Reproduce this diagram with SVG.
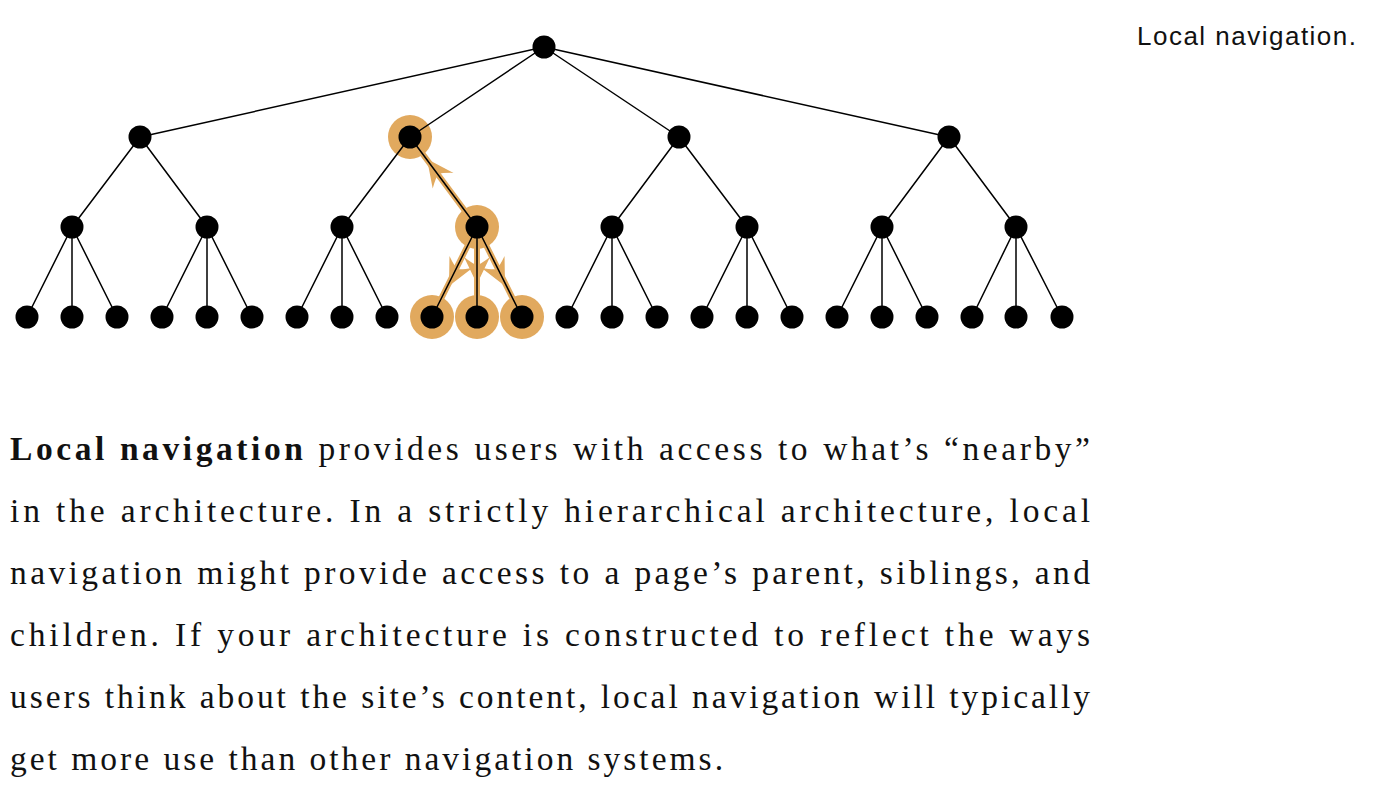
<svg xmlns="http://www.w3.org/2000/svg" width="1395" height="792" viewBox="0 0 1395 792">
<style>
.e{stroke:#000;stroke-width:1.5;fill:none}
.oe{stroke:#E1A95E;stroke-width:6;fill:none}
.n{fill:#000}
.h{fill:#E1A95E}
.ah{fill:#E1A95E}
.body{font-family:"Liberation Serif","DejaVu Serif",serif;font-size:33.5px;fill:#111}
.cap{font-family:"Liberation Sans","DejaVu Sans",sans-serif;font-size:26px;fill:#111}
</style>
<defs>
<path id="arr" d="M0,0 L-27,-13 Q-20,-4 -19,0 Q-20,4 -27,13 Z"/>
</defs>
<rect width="1395" height="792" fill="#fff"/>
<g id="highlights">
<circle class="h" cx="410" cy="137" r="22"/>
<circle class="h" cx="477" cy="227" r="22"/>
<circle class="h" cx="432" cy="317" r="22"/>
<circle class="h" cx="477" cy="317" r="22"/>
<circle class="h" cx="522" cy="317" r="22"/>
<path class="oe" d="M477,227 L410,137 M477,227 L432,317 M477,227 L477,317 M477,227 L522,317"/>
<use href="#arr" class="ah" transform="translate(427,159) rotate(-126.7)"/>
<use href="#arr" class="ah" transform="translate(449,286) rotate(116.6)"/>
<use href="#arr" class="ah" transform="translate(477,284) rotate(90)"/>
<use href="#arr" class="ah" transform="translate(505,286) rotate(63.4)"/>
</g>
<g id="connectors">
<path class="e" d="M544,47 L140,137 M544,47 L410,137 M544,47 L679,137 M544,47 L949,137
M140,137 L72,227 M140,137 L207,227 M410,137 L342,227 M410,137 L477,227 M679,137 L612,227 M679,137 L747,227 M949,137 L882,227 M949,137 L1016,227
M72,227 L27,317 M72,227 L72,317 M72,227 L117,317
M207,227 L162,317 M207,227 L207,317 M207,227 L252,317
M342,227 L297,317 M342,227 L342,317 M342,227 L387,317
M477,227 L432,317 M477,227 L477,317 M477,227 L522,317
M612,227 L567,317 M612,227 L612,317 M612,227 L657,317
M747,227 L702,317 M747,227 L747,317 M747,227 L792,317
M882,227 L837,317 M882,227 L882,317 M882,227 L927,317
M1016,227 L972,317 M1016,227 L1016,317 M1016,227 L1062,317"/>
</g>
<g id="node-root"><circle class="n" cx="544" cy="47" r="11.5"/></g>
<g id="level1">
<circle class="n" cx="140" cy="137" r="11.5"/>
<circle class="n" cx="410" cy="137" r="11.5"/>
<circle class="n" cx="679" cy="137" r="11.5"/>
<circle class="n" cx="949" cy="137" r="11.5"/>
</g>
<g id="level2">
<circle class="n" cx="72" cy="227" r="11.5"/>
<circle class="n" cx="207" cy="227" r="11.5"/>
<circle class="n" cx="342" cy="227" r="11.5"/>
<circle class="n" cx="477" cy="227" r="11.5"/>
<circle class="n" cx="612" cy="227" r="11.5"/>
<circle class="n" cx="747" cy="227" r="11.5"/>
<circle class="n" cx="882" cy="227" r="11.5"/>
<circle class="n" cx="1016" cy="227" r="11.5"/>
</g>
<g id="level3">
<circle class="n" cx="27" cy="317" r="11.5"/>
<circle class="n" cx="72" cy="317" r="11.5"/>
<circle class="n" cx="117" cy="317" r="11.5"/>
<circle class="n" cx="162" cy="317" r="11.5"/>
<circle class="n" cx="207" cy="317" r="11.5"/>
<circle class="n" cx="252" cy="317" r="11.5"/>
<circle class="n" cx="297" cy="317" r="11.5"/>
<circle class="n" cx="342" cy="317" r="11.5"/>
<circle class="n" cx="387" cy="317" r="11.5"/>
<circle class="n" cx="432" cy="317" r="11.5"/>
<circle class="n" cx="477" cy="317" r="11.5"/>
<circle class="n" cx="522" cy="317" r="11.5"/>
<circle class="n" cx="567" cy="317" r="11.5"/>
<circle class="n" cx="612" cy="317" r="11.5"/>
<circle class="n" cx="657" cy="317" r="11.5"/>
<circle class="n" cx="702" cy="317" r="11.5"/>
<circle class="n" cx="747" cy="317" r="11.5"/>
<circle class="n" cx="792" cy="317" r="11.5"/>
<circle class="n" cx="837" cy="317" r="11.5"/>
<circle class="n" cx="882" cy="317" r="11.5"/>
<circle class="n" cx="927" cy="317" r="11.5"/>
<circle class="n" cx="972" cy="317" r="11.5"/>
<circle class="n" cx="1016" cy="317" r="11.5"/>
<circle class="n" cx="1062" cy="317" r="11.5"/>
</g>
<g id="caption">
<text class="cap" x="1137" y="45" textLength="219" lengthAdjust="spacing">Local navigation.</text>
</g>
<g id="body">
<text class="body" x="10" y="460" textLength="1080" lengthAdjust="spacing"><tspan font-weight="bold">Local navigation</tspan> provides users with access to what’s “nearby”</text>
<text class="body" x="10" y="522" textLength="1080" lengthAdjust="spacing">in the architecture. In a strictly hierarchical architecture, local</text>
<text class="body" x="10" y="584" textLength="1080" lengthAdjust="spacing">navigation might provide access to a page’s parent, siblings, and</text>
<text class="body" x="10" y="646" textLength="1080" lengthAdjust="spacing">children. If your architecture is constructed to reflect the ways</text>
<text class="body" x="10" y="708" textLength="1080" lengthAdjust="spacing">users think about the site’s content, local navigation will typically</text>
<text class="body" x="10" y="770" textLength="713" lengthAdjust="spacing">get more use than other navigation systems.</text>
</g>
</svg>
